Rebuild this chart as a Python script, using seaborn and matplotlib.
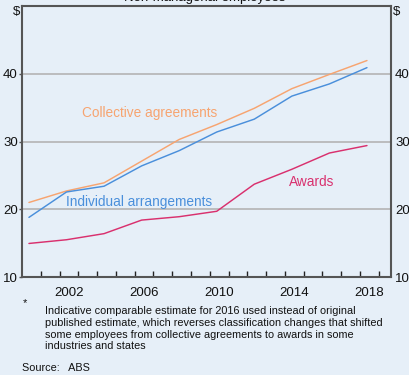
import numpy as np
import pandas as pd
import matplotlib
matplotlib.use("Agg")
import matplotlib.pyplot as plt
import seaborn as sns

years = [2000, 2002, 2004, 2006, 2008, 2010, 2012, 2014, 2016, 2018]
collective = [21.0, 22.7, 23.9, 27.1, 30.3, 32.5, 34.9, 37.8, 39.9, 41.95]
individual = [18.8, 22.55, 23.4, 26.4, 28.65, 31.4, 33.3, 36.7, 38.5, 40.9]
awards = [14.95, 15.5, 16.4, 18.4, 18.9, 19.7, 23.7, 25.9, 28.3, 29.4]
series_names = ["Collective agreements", "Individual arrangements", "Awards"]
x_labels = [2002, 2006, 2010, 2014, 2018]
y_labels = [10, 20, 30, 40]

colors = {"Collective agreements": "#F7A470",
          "Individual arrangements": "#4A8FDB",
          "Awards": "#D9306E"}
bg = "#E6EFF8"

sns.set_theme(style="white")
plt.rcParams["font.family"] = ["Liberation Sans", "DejaVu Sans"]

df = pd.DataFrame({
    "x": np.tile(np.array(years) + 0.37, 3),
    "value": collective + individual + awards,
    "series": np.repeat(series_names, len(years)),
})

fig = plt.figure(figsize=(4.09, 3.75), dpi=100, facecolor=bg)
ax = fig.add_axes([22 / 409, (375 - 277) / 375, (391 - 22) / 409, (277 - 6) / 375])
ax.set_facecolor(bg)

for v in [20, 30, 40]:
    ax.axhline(v, color="#B4B4B4", lw=1.2, zorder=1)

sns.lineplot(data=df, x="x", y="value", hue="series", palette=colors,
             ax=ax, legend=False, lw=1.05, zorder=3)

ax.set_xlim(2000, 2019.65)
ax.set_ylim(10, 50)
ax.set_xlabel("")
ax.set_ylabel("")

ax.set_xticks([y + 0.5 for y in x_labels])
ax.set_xticklabels([str(y) for y in x_labels], fontsize=9.5, color="#111111")
ax.set_xticks(np.arange(2001, 2020), minor=True)
ax.tick_params(axis="x", which="major", length=0, pad=7)
ax.tick_params(axis="x", which="minor", direction="in", length=4, width=1, color="#222222", bottom=True)

ax.set_yticks(y_labels)
ax.set_yticklabels([str(v) for v in y_labels], fontsize=9.5, color="#111111")
ax.tick_params(axis="y", which="major", direction="out", length=2, width=1, color="#555555",
               left=True, right=False, labelleft=True, labelright=True, pad=1)

for s in ax.spines.values():
    s.set_visible(True)
    s.set_color("#555555")
    s.set_linewidth(1.5)

ax.text(-0.006, 1.0, "$", transform=ax.transAxes, ha="right", va="top", fontsize=9.5, color="#111111")
ax.text(1.006, 1.0, "$", transform=ax.transAxes, ha="left", va="top", fontsize=9.5, color="#111111")

fig.text(0.5, 1 - 1.5 / 375, "Non-managerial employees", ha="center", va="baseline", fontsize=9.5, color="#111111")

ax.text(2003.2, 34.25, "Collective agreements", color=colors["Collective agreements"], fontsize=9.8, va="center")
ax.text(2002.35, 21.05, "Individual arrangements", color=colors["Individual arrangements"], fontsize=9.8, va="center")
ax.text(2014.2, 24.0, "Awards", color=colors["Awards"], fontsize=9.8, va="center")

fig.text(23 / 409, 1 - 303 / 375, "*", ha="left", va="center", fontsize=8, color="#111111")
foot = ("Indicative comparable estimate for 2016 used instead of original\n"
        "published estimate, which reverses classification changes that shifted\n"
        "some employees from collective agreements to awards in some\n"
        "industries and states")
fig.text(45 / 409, 1 - 306.5 / 375, foot, ha="left", va="top", fontsize=7.85, color="#111111", linespacing=1.19)
fig.text(22 / 409, 1 - 368 / 375, "Source:   ABS", ha="left", va="center", fontsize=7.85, color="#111111")

fig.savefig("out.png", dpi=100, facecolor=bg)
